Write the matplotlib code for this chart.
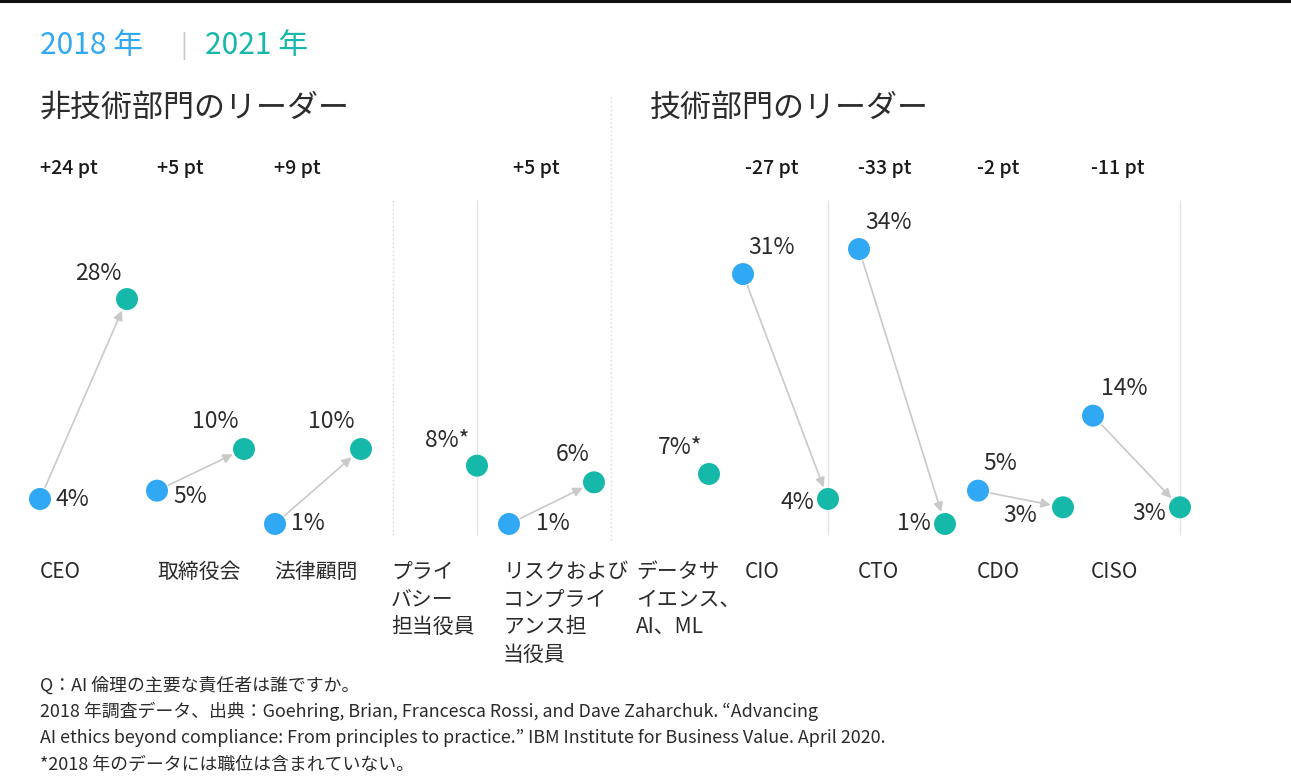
import numpy as np
import matplotlib
matplotlib.use('Agg')
import matplotlib.pyplot as plt
from matplotlib.lines import Line2D

plt.rcParams['font.family'] = ['Noto Sans CJK JP', 'DejaVu Sans']

# data
categories = ['CEO', '取締役会', '法律顧問', 'プライ\nバシー\n担当役員',
              'リスクおよび\nコンプライ\nアンス担\n当役員', 'データサ\nイエンス、\nAI、ML',
              'CIO', 'CTO', 'CDO', 'CISO']
share_2018 = [4, 5, 1, None, 1, None, 31, 34, 5, 14]
share_2021 = [28, 10, 10, 8, 6, 7, 4, 1, 3, 3]
starred = [False, False, False, True, False, True, False, False, False, False]

# layout (pixels in a 1291x780 canvas)
W, H = 1291, 780
col_left = [40, 157, 274, 391, 503, 636, 745, 858, 977, 1091]
x_2018 = [40, 157, 275, None, 509, None, 743, 859, 978, 1093]
x_2021 = [127, 244, 361, 477, 594, 709, 828, 945, 1063, 1180]
pt_x = [40, 157, 274, None, 513, None, 745, 858, 977, 1091]
# label offsets in px: (dx, dy up, ha)
lab_2018 = [(16, -1, 'left'), (16, -6, 'left'), (16, 0, 'left'), None, (27, 0, 'left'), None,
            (29, 27, 'center'), (30, 27, 'center'), (22, 27, 'center'), (31, 27, 'center')]
lab_2021 = [(-29, 26, 'center'), (-29, 27, 'center'), (-30, 27, 'center'), (-30, 25, 'center'),
            (-21, 28, 'center'), (-29, 26, 'center'), (-14, -4, 'right'), (-14, 0, 'right'),
            (-26, -8, 'right'), (-14, -6, 'right')]

BLUE = '#30a8f4'
TEAL = '#16b8a9'
TXT = '#2b2b2b'
Y0, K = 532.3, 8.33   # pixel row of 0 %, pixels per percentage point


def vy(ypix):
    return (Y0 - ypix) / K


def fx(x):
    return x / W


def fy(y):
    return 1 - y / H


fig = plt.figure(figsize=(W / 100, H / 100), dpi=100)
ax = fig.add_axes([0, 0, 1, 1])
ax.set_xlim(0, W)
ax.set_ylim(vy(H), vy(0))
ax.axis('off')

# top border
fig.add_artist(Line2D([0, 1], [fy(1), fy(1)], color='#111111', lw=2.2))

# guide lines
for x in [477, 828, 1180]:
    ax.vlines(x, vy(535), vy(200), color='#e3e3e3', lw=1.0, zorder=0)
ax.vlines(393, vy(535), vy(200), color='#d6d6d6', lw=1.0, linestyles=(0, (1, 2)), zorder=0)
ax.vlines(611, vy(540), vy(95), color='#d6d6d6', lw=1.0, linestyles=(0, (1, 2)), zorder=0)

# legend / headers
fig.text(fx(40), fy(46), '2018 年', color=BLUE, fontsize=21.5, va='center', ha='left')
fig.text(fx(180), fy(46), '|', color='#c8c8c8', fontsize=18, va='center', ha='left')
fig.text(fx(205), fy(46), '2021 年', color=TEAL, fontsize=21.5, va='center', ha='left')
fig.text(fx(40), fy(108), '非技術部門のリーダー', color=TXT, fontsize=22.3, va='center', ha='left')
fig.text(fx(650), fy(108), '技術部門のリーダー', color=TXT, fontsize=22.3, va='center', ha='left')

ms = 250
for i, cat in enumerate(categories):
    v1, v2 = share_2018[i], share_2021[i]
    x2 = x_2021[i]
    ax.scatter([x2], [v2], s=ms, color=TEAL, zorder=4, edgecolors='none')
    dx, dy, ha = lab_2021[i]
    ax.annotate(f'{v2}%' + ('*' if starred[i] else ''), (x2, v2),
                xytext=(dx * 0.72, dy * 0.72), textcoords='offset points',
                ha=ha, va='center', fontsize=16.5, color=TXT)
    if v1 is not None:
        x1 = x_2018[i]
        ax.scatter([x1], [v1], s=ms, color=BLUE, zorder=4, edgecolors='none')
        ax.annotate('', xy=(x2, v2), xytext=(x1, v1),
                    arrowprops=dict(arrowstyle='-|>', color='#c9c9c9', lw=1.2,
                                    mutation_scale=14, shrinkA=9, shrinkB=9), zorder=3)
        dx, dy, ha = lab_2018[i]
        ax.annotate(f'{v1}%', (x1, v1), xytext=(dx * 0.72, dy * 0.72),
                    textcoords='offset points', ha=ha, va='center', fontsize=16.5, color=TXT)
        diff = v2 - v1
        fig.text(fx(pt_x[i]), fy(168), f'{diff:+d} pt', color='#1a1a1a', fontsize=14,
                 fontweight='medium', va='center', ha='left')
    fig.text(fx(col_left[i]), fy(561), cat, color=TXT, fontsize=15, va='top', ha='left',
             linespacing=1.33)

notes = ['Q：AI 倫理の主要な責任者は誰ですか。',
         '2018 年調査データ、出典：Goehring, Brian, Francesca Rossi, and Dave Zaharchuk. “Advancing',
         'AI ethics beyond compliance: From principles to practice.” IBM Institute for Business Value. April 2020.',
         '*2018 年のデータには職位は含まれていない。']
for j, line in enumerate(notes):
    fig.text(fx(40), fy(685 + 26.5 * j), line, color=TXT, fontsize=12.9, va='center', ha='left')

fig.savefig('out.png', dpi=100, facecolor='white')
